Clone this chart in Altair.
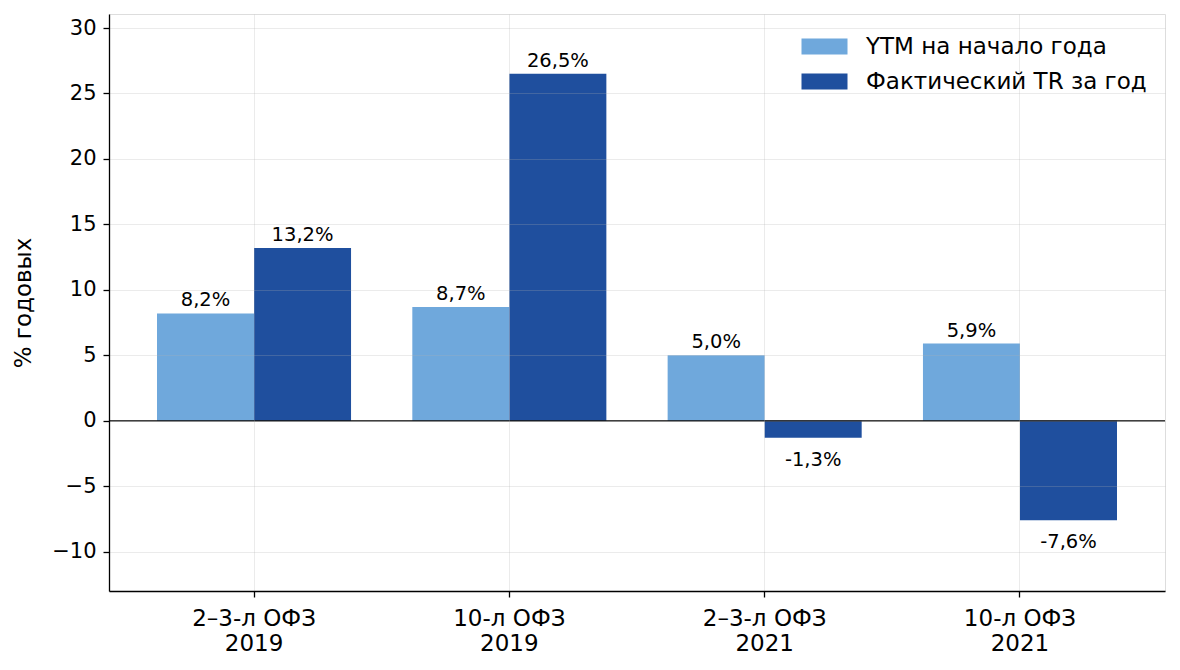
import altair as alt
import pandas as pd

categories = ["2–3-л ОФЗ\n2019", "10-л ОФЗ\n2019", "2–3-л ОФЗ\n2021", "10-л ОФЗ\n2021"]
series = ["YTM на начало года", "Фактический TR за год"]
ytm = [8.2, 8.7, 5.0, 5.9]
tr = [13.2, 26.5, -1.3, -7.6]
colors = ["#6fa8dc", "#1f4f9e"]
y_ticks = [-10, -5, 0, 5, 10, 15, 20, 25, 30]

rows = []
for i, c in enumerate(categories):
    for s, vals in zip(series, [ytm, tr]):
        v = vals[i]
        rows.append({"cat": c, "series": s, "value": v,
                     "label": f"{v:.1f}%".replace(".", ",")})
df = pd.DataFrame(rows)

FONT = "DejaVu Sans"
FS = 21
BIG = 23
LFS = 19.5

x_enc = alt.X("cat:N", sort=categories, title=None,
              scale=alt.Scale(paddingInner=0.24, paddingOuter=0.188),
              axis=alt.Axis(labelExpr="split(datum.label, '\\n')", labelAngle=0,
                            labelFontSize=BIG, labelLineHeight=25.5, labelColor="black",
                            labelFont=FONT, labelPadding=10,
                            tickSize=6, tickColor="black", tickWidth=1.3,
                            domainColor="black", domainWidth=1.3,
                            grid=True, gridColor="#b0b0b0", gridOpacity=0.25,
                            bandPosition=0.5, zindex=1))
xoff = alt.XOffset("series:N", sort=series,
                   scale=alt.Scale(paddingInner=0, paddingOuter=0))
y_scale = alt.Scale(domain=[-13, 31.07], nice=False, zero=False)

bars = alt.Chart(df).mark_bar().encode(
    x=x_enc,
    xOffset=xoff,
    y=alt.Y("value:Q", scale=y_scale, title="% годовых",
            axis=alt.Axis(values=y_ticks, labelExpr="replace(datum.label, '-', '−')",
                          labelFontSize=FS, labelColor="black", labelFont=FONT,
                          labelPadding=7, tickSize=6, tickColor="black", tickWidth=1.3,
                          domainColor="black", domainWidth=1.3,
                          grid=True, gridColor="#b0b0b0", gridOpacity=0.25,
                          titleFontSize=BIG, titleFont=FONT, titleFontWeight="normal",
                          titleColor="black", titlePadding=16, zindex=1)),
    color=alt.Color("series:N", sort=series,
                    scale=alt.Scale(domain=series, range=colors),
                    legend=alt.Legend(title=None, orient="none", legendX=704, legendY=21,
                                      symbolType="M-2.875,-1L2.875,-1L2.875,1L-2.875,1Z",
                                      symbolSize=256, symbolStrokeWidth=0,
                                      symbolOpacity=1, labelFontSize=BIG, labelFont=FONT,
                                      labelColor="black", labelOffset=30, labelLimit=0,
                                      rowPadding=11, padding=0)),
)

pos_text = alt.Chart(df).transform_filter("datum.value >= 0").mark_text(
    baseline="bottom", dy=-3, fontSize=LFS, font=FONT, color="black"
).encode(x=alt.X("cat:N", sort=categories), xOffset=xoff,
         y=alt.Y("value:Q", scale=y_scale), text="label:N")

neg_text = alt.Chart(df).transform_filter("datum.value < 0").mark_text(
    baseline="top", dy=13, fontSize=LFS, font=FONT, color="black"
).encode(x=alt.X("cat:N", sort=categories), xOffset=xoff,
         y=alt.Y("value:Q", scale=y_scale), text="label:N")

zero = alt.Chart(pd.DataFrame({"y": [0]})).mark_rule(color="black", strokeWidth=1.3).encode(
    y=alt.Y("y:Q", scale=y_scale))

chart = alt.layer(bars, pos_text, neg_text, zero).properties(
    width=1056, height=577,
    autosize=alt.AutoSizeParams(type="none"),
    padding={"left": 101, "top": 6, "right": 7, "bottom": 70},
).configure_view(stroke=None).configure(background="white")

chart.save("out.html", embed_options={"renderer": "svg", "actions": False})
